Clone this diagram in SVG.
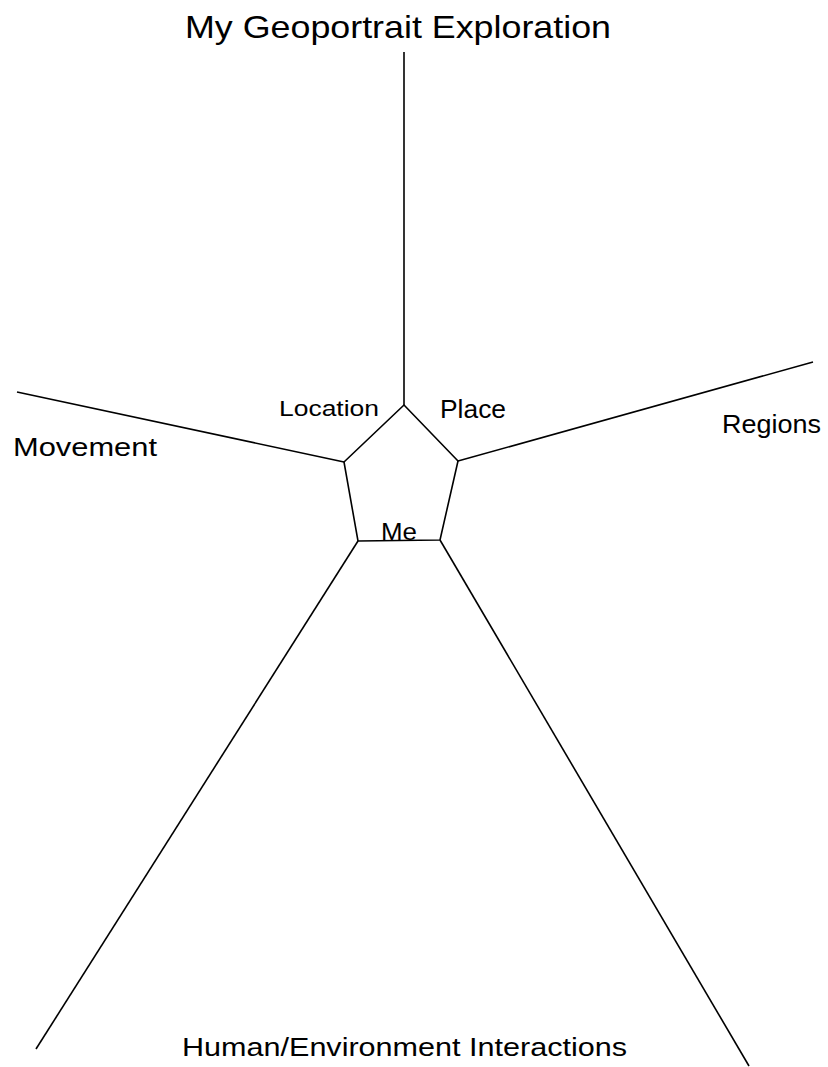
<svg xmlns="http://www.w3.org/2000/svg" width="828" height="1067" viewBox="0 0 828 1067">
<style>
.ln{stroke:#000;stroke-width:1.6;fill:none;stroke-linejoin:round}
.t{font-family:"Liberation Sans",Arial,sans-serif;fill:#000}
</style>
<rect width="828" height="1067" fill="#fff"/>
<g id="connectors">
<line class="ln" x1="404" y1="405" x2="404" y2="52"/>
<line class="ln" x1="344" y1="462" x2="17" y2="392"/>
<line class="ln" x1="458" y1="461" x2="813" y2="362"/>
<line class="ln" x1="358" y1="541" x2="36" y2="1049"/>
<line class="ln" x1="440" y1="540" x2="749" y2="1066"/>
</g>
<g id="title"><text class="t" x="185" y="38" font-size="32" textLength="426" lengthAdjust="spacingAndGlyphs">My Geoportrait Exploration</text></g>
<g id="me">
<polygon class="ln" points="404,405 458,461 440,540 358,541 344,462"/>
<text class="t" x="381" y="540" font-size="23" textLength="36" lengthAdjust="spacingAndGlyphs">Me</text>
</g>
<g id="location"><text class="t" x="279" y="416" font-size="22" textLength="100" lengthAdjust="spacingAndGlyphs">Location</text></g>
<g id="place"><text class="t" x="440" y="418" font-size="26" textLength="66" lengthAdjust="spacingAndGlyphs">Place</text></g>
<g id="regions"><text class="t" x="722" y="433" font-size="25" textLength="99" lengthAdjust="spacingAndGlyphs">Regions</text></g>
<g id="movement"><text class="t" x="13" y="456" font-size="25" textLength="144" lengthAdjust="spacingAndGlyphs">Movement</text></g>
<g id="human"><text class="t" x="182" y="1056" font-size="25" textLength="445" lengthAdjust="spacingAndGlyphs">Human/Environment Interactions</text></g>
</svg>
